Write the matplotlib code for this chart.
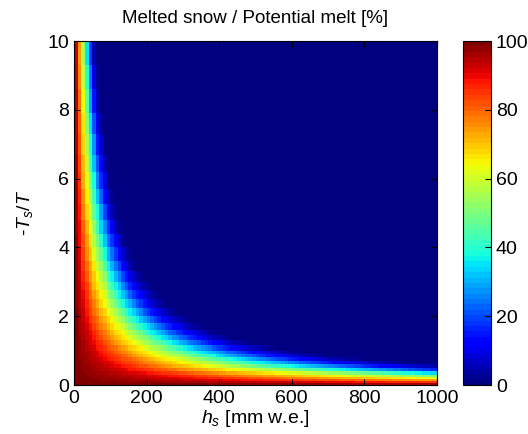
import numpy as np
import matplotlib
matplotlib.use("Agg")
import matplotlib.pyplot as plt

plt.rcParams["font.family"] = ["Liberation Sans", "DejaVu Sans"]
plt.rcParams["mathtext.fontset"] = "custom"
plt.rcParams["mathtext.it"] = "Liberation Sans:italic"
plt.rcParams["mathtext.rm"] = "Liberation Sans"

# grid of the map (cell edges)
hs_edges = np.arange(0, 1001, 10)
ratio_edges = np.array([0, 0.06, 0.12, 0.18, 0.24, 0.3, 0.4, 0.5, 0.6, 0.7, 0.8, 0.9,
                        1.0, 1.15, 1.3, 1.45, 1.6, 1.8, 2.0, 2.25, 2.5, 2.75, 3.0, 3.3,
                        3.6, 4.0, 4.4, 4.8, 5.25, 5.7, 6.2, 6.7, 7.3, 7.9, 8.6, 9.3, 10.0])

cold_index = [0, 50, 100, 150, 200, 250, 300, 350, 400, 450, 500, 550, 600, 650]
melt_pct = [100, 93, 83, 73, 64, 54, 43, 33, 24, 16, 9, 4, 1, 0]

hs_mid = 0.5 * (hs_edges[1:] + hs_edges[:-1])
ratio_mid = 0.5 * (ratio_edges[1:] + ratio_edges[:-1])
H, R = np.meshgrid(hs_mid, ratio_mid)
Z = np.interp(H * R, cold_index, melt_pct)

fig = plt.figure(figsize=(5.28, 4.34), dpi=100)
ax = fig.add_axes([74 / 528, 1 - 385 / 434, 363 / 528, 344 / 434])
mesh = ax.pcolormesh(hs_edges, ratio_edges, Z, cmap=plt.get_cmap("jet", 64),
                     vmin=0, vmax=100, shading="flat")
ax.set_xlim(0, 1000)
ax.set_ylim(0, 10)
ax.set_xticks([0, 200, 400, 600, 800, 1000])
ax.set_yticks([0, 2, 4, 6, 8, 10])
ax.tick_params(direction="in", top=True, right=True, labelsize=14, length=4)
ax.set_title("Melted snow / Potential melt [%]", fontsize=13.5, pad=13)
ax.set_xlabel(r"$h_s$ [mm w.e.]", fontsize=14, labelpad=1)
ax.set_ylabel(r"-$T_s$/$T$", fontsize=14, labelpad=9)

cax = fig.add_axes([463 / 528, 1 - 385 / 434, 28 / 528, 344 / 434])
cb = fig.colorbar(mesh, cax=cax, ticks=[0, 20, 40, 60, 80, 100])
cb.ax.tick_params(direction="in", labelsize=14, length=4)

fig.savefig("out.png", dpi=100)
